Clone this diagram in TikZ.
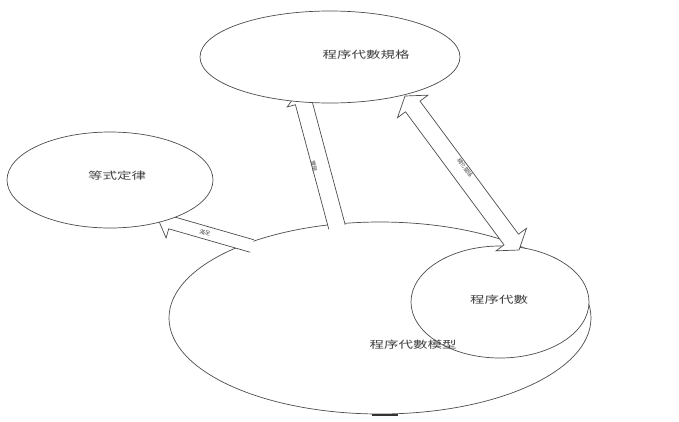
\documentclass[tikz,border=0pt]{standalone}
\usepackage{fontspec}
\newfontfamily\cjk{Noto Sans CJK TC}
\usetikzlibrary{calc,shapes.geometric}
\tikzset{
  ln/.style={draw=black!70, line width=0.7pt},
  ell/.style={ln, ellipse, fill=white, inner sep=0pt},
  txt/.style={font=\cjk\fontsize{10}{12}\selectfont, xscale=1.45, text=black!75},
  lab/.style={font=\cjk\fontsize{5.5}{6}\selectfont, text=black!70, inner sep=0pt},
}
\newcommand\blockarrow[5]{%
  \coordinate (bN) at ($(#2)!#5!(#1)$);
  \draw[ln, fill=white] ($(#1)!#3!90:(#2)$) -- ($(bN)!#3!90:(#2)$) -- ($(bN)!#4!90:(#2)$) -- (#2)
     -- ($(bN)!#4!-90:(#2)$) -- ($(bN)!#3!-90:(#2)$) -- ($(#1)!#3!-90:(#2)$);
}
\newcommand\dblarrow[5]{%
  \coordinate (dN1) at ($(#2)!#5!(#1)$);
  \coordinate (dN2) at ($(#1)!#5!(#2)$);
  \draw[ln, fill=white] ($(dN2)!#3!90:(#2)$) -- ($(dN1)!#3!90:(#2)$) -- ($(dN1)!#4!90:(#2)$) -- (#2)
     -- ($(dN1)!#4!-90:(#2)$) -- ($(dN1)!#3!-90:(#2)$) -- ($(dN2)!#3!-90:(#2)$)
     -- ($(dN2)!#4!-90:(#2)$) -- (#1) -- ($(dN2)!#4!90:(#2)$) -- cycle;
}
\begin{document}
\begin{tikzpicture}[x=1pt, y=-1pt]
\useasboundingbox (0,0) rectangle (679,421);
% big model ellipse and inner algebra ellipse
\node[ell, minimum width=422pt, minimum height=192pt] (model) at (380,318) {};
\node[ell, minimum width=178pt, minimum height=112pt] (alg) at (500,302) {};
\draw[line width=2.2pt, black!80] (372,415) -- (398,415);
% arrow anchor points
\coordinate (a1t) at (252,246);
\coordinate (a1h) at (158,219);
\coordinate (a2t) at (337,227);
\coordinate (a2h) at (300,89);
\coordinate (a3a) at (405,96);
\coordinate (a3b) at (519,250);
\blockarrow{a1t}{a1h}{6.5pt}{16pt}{13pt}
\blockarrow{a2t}{a2h}{8.5pt}{17pt}{14pt}
\dblarrow{a3a}{a3b}{9pt}{19pt}{13pt}
% top and left ellipses
\node[ell, minimum width=260pt, minimum height=92pt] (spec) at (330,57) {};
\node[ell, minimum width=206pt, minimum height=96pt] (laws) at (110,180) {};
% texts
\node[txt] (specT) at (366,55) {程序代數規格};
\node[txt] (lawsT) at (117,176) {等式定律};
\node[txt] (algT) at (499,300) {程序代數};
\node[txt] (modelT) at (413,345) {程序代數模型};
% arrow labels
\node[lab, rotate=-16] (l1) at ($(a1t)!0.5!(a1h)$) {滿足};
\node[lab, rotate=-76] (l2) at (314,166) {實現};
\node[lab, rotate=-54] (l3) at (465,168) {精化關係};
\end{tikzpicture}
\end{document}
